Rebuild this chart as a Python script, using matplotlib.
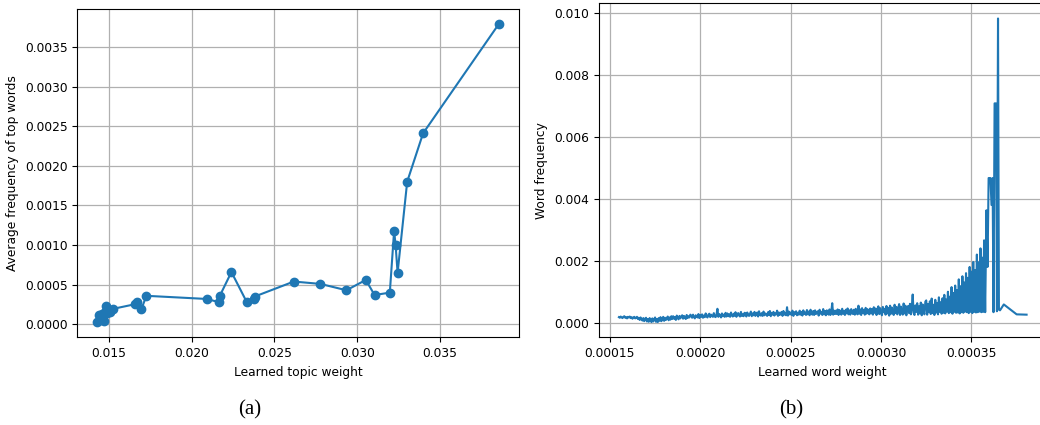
import numpy as np
import matplotlib
matplotlib.use("Agg")
import matplotlib.pyplot as plt

# ---------------- (a) topic weight vs. average frequency of top words ----------------
topic_weight = [0.01430, 0.01438, 0.01445, 0.01452, 0.01460, 0.01468, 0.01475, 0.01484,
                0.01490, 0.01504, 0.01524, 0.01660, 0.01672, 0.01696, 0.01726, 0.02093,
                0.02163, 0.02170, 0.02240, 0.02333, 0.02375, 0.02380, 0.02617, 0.02778,
                0.02935, 0.03052, 0.03105, 0.03197, 0.03223, 0.03232, 0.03244, 0.03302,
                0.03398, 0.03856]
topic_avg_freq = [0.000025, 0.000120, 0.000050, 0.000080, 0.000130, 0.000040, 0.000150, 0.000230,
                  0.000140, 0.000160, 0.000195, 0.000255, 0.000276, 0.000190, 0.000360, 0.000320,
                  0.000280, 0.000360, 0.000660, 0.000280, 0.000320, 0.000350, 0.000540, 0.000510,
                  0.000430, 0.000560, 0.000370, 0.000400, 0.001180, 0.001000, 0.000650, 0.001800,
                  0.002410, 0.003790]

# ---------------- (b) word weight vs. word frequency ----------------
# word weight in units of 1e-6, word frequency in units of 1e-4
word_weight_e6 = [
    155.0, 155.5, 156.0, 156.5, 157.0, 157.5, 158.0, 158.5, 159.0, 159.5,
    160.0, 160.5, 161.0, 161.5, 162.0, 162.5, 163.0, 163.5, 164.0, 164.5,
    165.0, 165.5, 166.0, 166.5, 167.0, 167.5, 168.0, 168.5, 169.0, 169.5,
    170.0, 170.5, 171.0, 171.5, 172.0, 172.5, 173.0, 173.5, 174.0, 174.5,
    175.0, 175.5, 176.0, 176.5, 177.0, 177.5, 178.0, 178.5, 179.0, 179.5,
    180.0, 180.5, 181.0, 181.5, 182.0, 182.5, 183.0, 183.5, 184.0, 184.5,
    185.0, 185.5, 186.0, 186.5, 187.0, 187.5, 188.0, 188.5, 189.0, 189.5,
    190.0, 190.5, 191.0, 191.5, 192.0, 192.5, 193.0, 193.5, 194.0, 194.5,
    195.0, 195.5, 196.0, 196.5, 197.0, 197.5, 198.0, 198.5, 199.0, 199.5,
    200.0, 200.5, 201.0, 201.5, 202.0, 202.5, 203.0, 203.5, 204.0, 204.5,
    205.0, 205.5, 206.0, 206.5, 207.0, 207.5, 208.0, 208.5, 209.0, 209.5,
    210.0, 210.5, 211.0, 211.5, 212.0, 212.5, 213.0, 213.5, 214.0, 214.5,
    215.0, 215.5, 216.0, 216.5, 217.0, 217.5, 218.0, 218.5, 219.0, 219.5,
    220.0, 220.5, 221.0, 221.5, 222.0, 222.5, 223.0, 223.5, 224.0, 224.5,
    225.0, 225.5, 226.0, 226.5, 227.0, 227.5, 228.0, 228.5, 229.0, 229.5,
    230.0, 230.5, 231.0, 231.5, 232.0, 232.5, 233.0, 233.5, 234.0, 234.5,
    235.0, 235.5, 236.0, 236.5, 237.0, 237.5, 238.0, 238.5, 239.0, 239.5,
    240.0, 240.5, 241.0, 241.5, 242.0, 242.5, 243.0, 243.5, 244.0, 244.5,
    245.0, 245.5, 246.0, 246.5, 247.0, 247.5, 248.0, 248.5, 249.0, 249.5,
    250.0, 250.5, 251.0, 251.5, 252.0, 252.5, 253.0, 253.5, 254.0, 254.5,
    255.0, 255.5, 256.0, 256.5, 257.0, 257.5, 258.0, 258.5, 259.0, 259.5,
    260.0, 260.5, 261.0, 261.5, 262.0, 262.5, 263.0, 263.5, 264.0, 264.5,
    265.0, 265.5, 266.0, 266.5, 267.0, 267.5, 268.0, 268.5, 269.0, 269.5,
    270.0, 270.5, 271.0, 271.5, 272.0, 272.5, 273.0, 273.5, 274.0, 274.5,
    275.0, 275.5, 276.0, 276.5, 277.0, 277.5, 278.0, 278.5, 279.0, 279.5,
    280.0, 280.5, 281.0, 281.5, 282.0, 282.5, 283.0, 283.5, 284.0, 284.5,
    285.0, 285.5, 286.0, 286.5, 287.0, 287.5, 288.0, 288.5, 289.0, 289.5,
    290.0, 290.5, 291.0, 291.5, 292.0, 292.5, 293.0, 293.5, 294.0, 294.5,
    295.0, 295.5, 296.0, 296.5, 297.0, 297.5, 298.0, 298.5, 299.0, 299.5,
    300.0, 300.5, 301.0, 301.5, 302.0, 302.5, 303.0, 303.5, 304.0, 304.5,
    305.0, 305.5, 306.0, 306.5, 307.0, 307.5, 308.0, 308.5, 309.0, 309.5,
    310.0, 310.5, 311.0, 311.5, 312.0, 312.5, 313.0, 313.5, 314.0, 314.5,
    315.0, 315.5, 316.0, 316.5, 317.0, 317.5, 318.0, 318.5, 319.0, 319.5,
    320.0, 320.5, 321.0, 321.5, 322.0, 322.5, 323.0, 323.5, 324.0, 324.5,
    325.0, 325.5, 326.0, 326.5, 327.0, 327.5, 328.0, 328.5, 329.0, 329.5,
    330.0, 330.5, 331.0, 331.5, 332.0, 332.5, 333.0, 333.5, 334.0, 334.5,
    335.0, 335.5, 336.0, 336.5, 337.0, 337.5, 338.0, 338.5, 339.0, 339.5,
    340.0, 340.5, 341.0, 341.5, 342.0, 342.5, 343.0, 343.5, 344.0, 344.5,
    345.0, 345.5, 346.0, 346.5, 347.0, 347.5, 348.0, 348.5, 349.0, 349.5,
    350.0, 350.5, 351.0, 351.5, 352.0, 352.5, 353.0, 353.5, 354.0, 354.5,
    355.0, 355.5, 356.0, 356.5, 357.0,
    357.6, 358.3, 358.9, 359.5, 360.5, 361.1, 361.7, 362.2, 362.8, 363.6,
    364.1, 364.7, 365.2, 365.8, 367.9, 375.0, 380.5]
word_freq_e4 = [
    1.8, 1.6, 2.0, 1.7, 1.5, 1.9, 2.1, 1.6, 1.8, 1.4,
    1.9, 1.7, 2.0, 1.5, 1.8, 1.3, 1.7, 1.9, 1.4, 1.6,
    1.9, 1.2, 1.6, 0.9, 1.7, 1.1, 0.7, 1.5, 0.5, 1.3,
    1.6, 0.4, 1.2, 0.3, 1.5, 0.8, 0.2, 1.4, 0.4, 1.1,
    1.7, 0.3, 1.2, 0.2, 1.5, 0.6, 1.8, 0.5, 1.1, 1.9,
    0.6, 1.6, 0.9, 1.4, 2.0, 0.8, 1.7, 1.0, 2.1, 1.2,
    2.1, 1.3, 1.8, 0.9, 2.3, 1.5, 1.1, 2.2, 1.4, 2.0,
    2.4, 1.3, 2.2, 1.6, 1.2, 2.5, 1.5, 2.1, 1.7, 2.6,
    2.3, 1.6, 2.6, 1.8, 1.4, 2.4, 2.0, 1.7, 2.8, 1.5,
    2.5, 1.9, 2.7, 1.6, 2.3, 1.8, 3.0, 2.0, 1.7, 2.6,
    2.9, 1.8, 2.6, 2.2, 1.9, 3.1, 2.0, 1.8, 2.7, 4.5,
    1.9, 2.8, 2.3, 1.7, 3.0, 2.1, 2.6, 1.9, 3.2, 2.0,
    3.0, 2.1, 2.7, 1.9, 3.3, 2.4, 2.0, 2.9, 2.2, 3.4,
    1.9, 2.8, 3.1, 2.3, 2.0, 3.5, 2.2, 2.7, 2.1, 3.2,
    3.1, 2.0, 3.3, 2.5, 2.2, 2.9, 3.6, 2.1, 3.0, 2.4,
    3.5, 2.2, 2.8, 3.3, 2.0, 3.7, 2.6, 2.3, 3.1, 2.2,
    3.6, 2.4, 3.0, 2.7, 2.2, 3.4, 2.5, 3.8, 2.1, 3.2,
    2.6, 3.5, 2.3, 3.0, 2.7, 3.9, 2.2, 3.3, 2.5, 3.1,
    3.5, 2.2, 3.8, 2.6, 3.1, 2.4, 5.0, 2.3, 3.6, 2.7,
    3.3, 2.5, 3.9, 2.2, 3.4, 2.8, 3.7, 2.4, 3.2, 2.6,
    3.9, 2.6, 3.5, 2.3, 4.0, 2.8, 3.3, 2.5, 4.1, 2.7,
    3.6, 2.4, 4.2, 3.0, 2.6, 3.8, 2.5, 4.0, 2.8, 3.4,
    3.7, 2.3, 4.2, 2.9, 3.5, 2.5, 4.4, 2.7, 3.8, 2.4,
    4.0, 3.0, 2.6, 4.3, 2.5, 3.7, 6.3, 2.6, 3.9, 2.8,
    3.9, 2.8, 4.3, 2.5, 4.1, 3.1, 2.6, 4.5, 2.9, 3.8,
    2.5, 4.2, 3.0, 4.6, 2.7, 4.0, 2.6, 4.4, 3.2, 2.8,
    4.2, 2.6, 4.5, 3.1, 2.7, 5.5, 2.9, 4.3, 2.5, 4.7,
    3.2, 4.1, 2.6, 4.8, 2.9, 4.4, 3.3, 2.7, 4.6, 3.0,
    4.4, 2.6, 5.0, 3.2, 4.6, 2.5, 4.2, 5.3, 2.8, 4.7,
    3.1, 2.4, 5.1, 3.4, 4.5, 2.6, 5.4, 3.0, 4.8, 2.3,
    5.5, 2.9, 4.9, 3.3, 2.5, 5.8, 3.1, 5.1, 2.7, 4.6,
    6.0, 2.5, 5.2, 3.4, 2.6, 6.2, 3.0, 5.5, 2.4, 4.9,
    5.4, 3.1, 6.1, 2.7, 5.0, 9.1, 3.2, 2.5, 5.6, 3.5,
    6.3, 2.6, 5.3, 3.0, 6.5, 2.4, 5.9, 3.6, 2.7, 6.8,
    7.2, 2.6, 6.0, 3.4, 6.9, 2.8, 7.8, 3.1, 5.8, 2.5,
    7.4, 3.3, 6.4, 2.7, 8.2, 3.5, 6.6, 2.9, 7.9, 3.2,
    9.0, 3.0, 7.5, 3.6, 10.0, 3.1, 8.4, 3.4, 11.5, 2.9,
    9.6, 3.5, 12.0, 3.2, 10.5, 3.3, 14.0, 3.0, 11.8, 3.4,
    15.0, 3.2, 13.0, 3.6, 16.0, 3.4, 14.5, 3.1, 18.0, 3.5,
    16.5, 3.1, 19.6, 3.5, 17.0, 3.3, 22.0, 3.4, 19.5, 3.6,
    24.0, 3.4, 21.0, 3.5, 26.6,
    3.4, 36.3, 18.0, 46.7, 46.7, 38.0, 46.7, 3.4, 70.8, 70.8,
    3.7, 98.2, 4.2, 4.0, 5.9, 2.7, 2.6]

word_weight = np.array(word_weight_e6) * 1e-6
word_freq = np.array(word_freq_e4) * 1e-4

FS = 8.8
color = "#1f77b4"

fig = plt.figure(figsize=(10.4, 4.25), dpi=100)

ax1 = fig.add_axes([0.0743, 0.2064, 0.4247, 0.7724])
ax1.plot(topic_weight, topic_avg_freq, "-o", color=color, lw=1.5, ms=6)
ax1.set_xticks([0.015, 0.020, 0.025, 0.030, 0.035])
ax1.set_yticks(np.arange(0, 0.0036, 0.0005))
ax1.xaxis.set_major_formatter(matplotlib.ticker.FormatStrFormatter("%.3f"))
ax1.yaxis.set_major_formatter(matplotlib.ticker.FormatStrFormatter("%.4f"))
ax1.grid(True, color="#b0b0b0", lw=0.9)
ax1.set_axisbelow(True)
ax1.set_xlabel("Learned topic weight", fontsize=FS)
ax1.set_ylabel("Average frequency of top words", fontsize=FS)
ax1.tick_params(labelsize=FS)

ax2 = fig.add_axes([0.5755, 0.2064, 0.4312, 0.7858])
ax2.plot(word_weight, word_freq, "-", color=color, lw=1.5)
ax2.set_xticks([0.00015, 0.00020, 0.00025, 0.00030, 0.00035])
ax2.set_yticks([0.0, 0.002, 0.004, 0.006, 0.008, 0.010])
ax2.xaxis.set_major_formatter(matplotlib.ticker.FormatStrFormatter("%.5f"))
ax2.yaxis.set_major_formatter(matplotlib.ticker.FormatStrFormatter("%.3f"))
ax2.grid(True, color="#b0b0b0", lw=0.9)
ax2.set_axisbelow(True)
ax2.set_xlabel("Learned word weight", fontsize=FS)
ax2.set_ylabel("Word frequency", fontsize=FS)
ax2.tick_params(labelsize=FS)

fig.text(250 / 1040, 1 - 410 / 425, "(a)", ha="center", va="center",
         fontsize=15, family="Liberation Serif")
fig.text(791 / 1040, 1 - 410 / 425, "(b)", ha="center", va="center",
         fontsize=15, family="Liberation Serif")

fig.savefig("out.png", dpi=100)
